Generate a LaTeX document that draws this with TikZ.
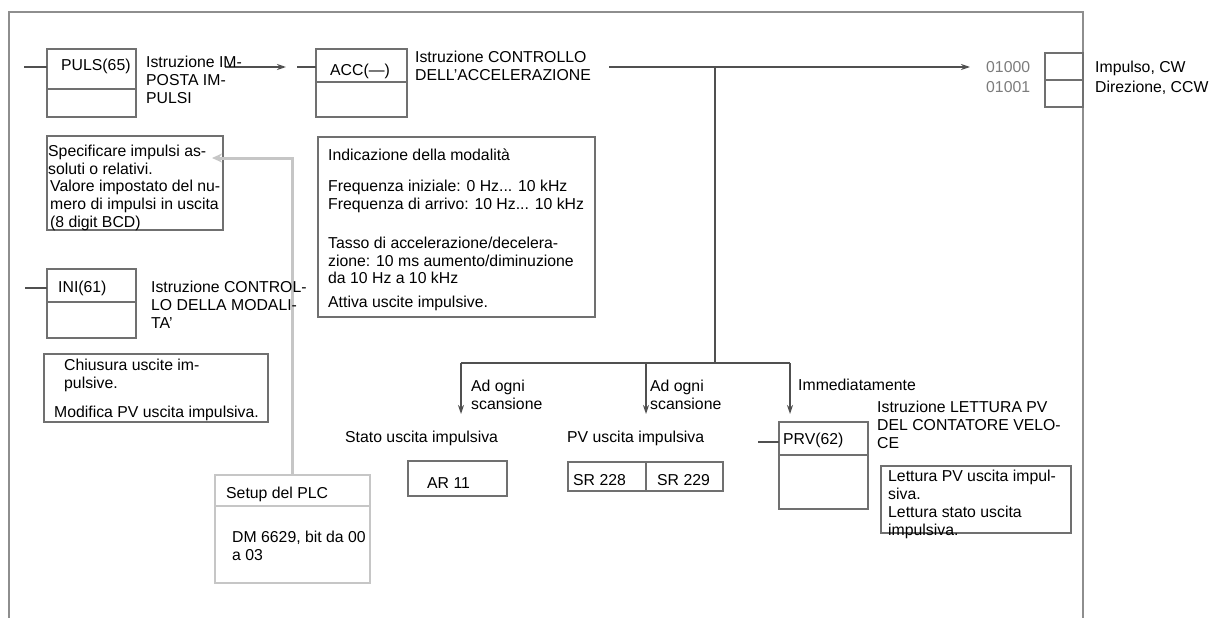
\documentclass[tikz,border=0pt]{standalone}
\usepackage{fontspec}
\setmainfont{Liberation Sans}
\usetikzlibrary{shapes,arrows,arrows.meta,positioning,fit,calc}

\definecolor{framegray}{HTML}{8E8E8E}
\definecolor{boxgray}{HTML}{707070}
\definecolor{wiregray}{HTML}{505050}
\definecolor{palegray}{HTML}{C6C6C6}
\definecolor{addrgray}{HTML}{7C7C7C}

\begin{document}
\begin{tikzpicture}[x=1pt, y=-1pt,
    % Node styles
    plcbox/.style={draw=boxgray, line width=1.6pt, rectangle, inner sep=0pt, outer sep=0pt},
    setupbox/.style={plcbox, draw=palegray},
    txt/.style={font=\fontsize{15.8}{17.8}\selectfont, inner sep=0pt, align=left, anchor=north west},
    addr/.style={txt, text=addrgray},
    wire/.style={draw=wiregray, line width=1.3pt},
    edge/.style={wire, -{Stealth[length=9pt, width=6pt]}},
    feed/.style={draw=palegray, line width=3pt, -{Stealth[length=10pt, width=9pt]}},
    frame/.style={draw=framegray, line width=2.2pt},
]
\useasboundingbox (0,0) rectangle (1211,618);

% ============================================================
% Frame
% ============================================================
\coordinate (fbl) at (9,618);
\coordinate (ftl) at (9,12);
\coordinate (ftr) at (1083,12);
\coordinate (fbr) at (1083,618);
\draw[frame] (fbl) -- (ftl) -- (ftr) -- (fbr);

% ============================================================
% Instruction boxes
% ============================================================
\node[plcbox, minimum width=89pt, minimum height=40pt] (puls) at (91.5,69) {};
\node[plcbox, minimum width=89pt, minimum height=28pt, below=0pt of puls] (pulsb) {};

\node[plcbox, minimum width=91pt, minimum height=33pt] (acc) at (361.5,65.5) {};
\node[plcbox, minimum width=91pt, minimum height=35pt, below=0pt of acc] (accb) {};

\node[plcbox, minimum width=89pt, minimum height=33pt] (ini) at (91.5,285.5) {};
\node[plcbox, minimum width=89pt, minimum height=36pt, below=0pt of ini] (inib) {};

\node[plcbox, minimum width=89pt, minimum height=33pt] (prv) at (823.5,438.5) {};
\node[plcbox, minimum width=89pt, minimum height=54pt, below=0pt of prv] (prvb) {};

% Output bits
\node[plcbox, minimum width=38pt, minimum height=27pt] (cw) at (1064,66.5) {};
\node[plcbox, minimum width=38pt, minimum height=27pt, below=0pt of cw] (ccw) {};

% ============================================================
% Note boxes
% ============================================================
\node[plcbox, minimum width=176pt, minimum height=94pt] (spec) at (135,183) {};
\node[plcbox, minimum width=277pt, minimum height=180pt] (mode) at (456.5,227) {};
\node[plcbox, minimum width=224pt, minimum height=68pt] (stop) at (156,388) {};
\node[plcbox, minimum width=190pt, minimum height=67pt] (read) at (976,499.5) {};

% Setup del PLC
\node[setupbox, minimum width=155pt, minimum height=31pt] (setup) at (292.5,490.5) {};
\node[setupbox, minimum width=155pt, minimum height=77pt, below=0pt of setup] (setupb) {};

% Memory areas
\node[plcbox, minimum width=99pt, minimum height=35pt] (ar) at (457.5,478.5) {};
\node[plcbox, minimum width=78pt, minimum height=29pt] (srlo) at (607,476.5) {};
\node[plcbox, minimum width=77pt, minimum height=29pt, right=0pt of srlo] (srhi) {};

% ============================================================
% Connectors
% ============================================================
\coordinate (pulsin) at (24,67);
\draw[wire] (pulsin) -- (pulsin -| puls.west);

\coordinate (pulsout) at (225,67);
\coordinate (acctip) at (286,67);
\draw[edge] (pulsout) -- (acctip);

\coordinate (accin) at (297,67);
\draw[wire] (accin) -- (accin -| acc.west);

\coordinate (accout) at (609,67);
\coordinate (outtip) at (970,67);
\draw[edge] (accout) -- (outtip);

\coordinate (split) at (715,67);
\coordinate (bus) at (715,363);
\draw[wire] (split) -- (bus);

\coordinate (busl) at (461,363);
\coordinate (busm) at (646,363);
\coordinate (busr) at (790,363);
\draw[wire] (busl) -- (busr);

\coordinate (tipl) at (461,414);
\coordinate (tipm) at (646,414);
\coordinate (tipr) at (790,414);
\draw[edge] (busl) -- (tipl);
\draw[edge] (busm) -- (tipm);
\draw[edge] (busr) -- (tipr);

\coordinate (iniin) at (25,288);
\draw[wire] (iniin) -- (iniin -| ini.west);

\coordinate (prvin) at (758,442);
\draw[wire] (prvin) -- (prvin -| prv.west);

% Setup -> pulse specification
\coordinate (spectip) at (212,158);
\draw[feed] (setup.north) |- (spectip);

% ============================================================
% Texts
% ============================================================
\node[txt] (pulstxt) at (61,59) {PULS(65)};
\node[txt] (pulslbl) at (146,56) {Istruzione IM-\\POSTA IM-\\PULSI};

\node[txt] (acctxt) at (330,64) {ACC(—)};
\node[txt] (acclbl) at (415,51) {Istruzione CONTROLLO\\DELL’ACCELERAZIONE};

\node[addr] (addr0) at (986,61) {01000};
\node[addr] (addr1) at (986,81) {01001};
\node[txt] (cwtxt) at (1095,61) {Impulso, CW};
\node[txt] (ccwtxt) at (1095,81) {Direzione, CCW};

\node[txt] (spec1) at (48,145) {Specificare impulsi as-\\soluti o relativi.};
\node[txt] (spec2) at (50,180) {Valore impostato del nu-\\mero di impulsi in uscita\\(8 digit BCD)};

\node[txt] (modetxt) at (328,149) {Indicazione della modalità\\[13pt]
  Frequenza iniziale: 0 Hz... 10 kHz\\
  Frequenza di arrivo: 10 Hz... 10 kHz\\[21pt]
  Tasso di accelerazione/decelera-\\
  zione: 10 ms aumento/diminuzione\\
  da 10 Hz a 10 kHz\\[6pt]
  Attiva uscite impulsive.};

\node[txt] (initxt) at (58,281) {INI(61)};
\node[txt] (inilbl) at (151,281) {Istruzione CONTROL-\\LO DELLA MODALI-\\TA’};

\node[txt] (stop1) at (64,359) {Chiusura uscite im-\\pulsive.};
\node[txt] (stop2) at (54,406) {Modifica PV uscita impulsiva.};

\node[txt] (setuptxt) at (226,487) {Setup del PLC};
\node[txt] (dmtxt) at (232,531) {DM 6629, bit da 00\\a 03};

\node[txt] (scan1) at (471,380) {Ad ogni\\scansione};
\node[txt] (scan2) at (650,380) {Ad ogni\\scansione};
\node[txt] (immed) at (798,379) {Immediatamente};

\node[txt] (statotxt) at (345,431) {Stato uscita impulsiva};
\node[txt] (pvtxt) at (567,431) {PV uscita impulsiva};

\node[txt] (artxt) at (427,477) {AR 11};
\node[txt] (srlotxt) at (573,474) {SR 228};
\node[txt] (srhitxt) at (657,474) {SR 229};

\node[txt] (prvtxt) at (783,433) {PRV(62)};
\node[txt] (prvlbl) at (877,401) {Istruzione LETTURA PV\\DEL CONTATORE VELO-\\CE};
\node[txt] (readtxt) at (888,470) {Lettura PV uscita impul-\\siva.\\Lettura stato uscita\\impulsiva.};

\end{tikzpicture}
\end{document}
